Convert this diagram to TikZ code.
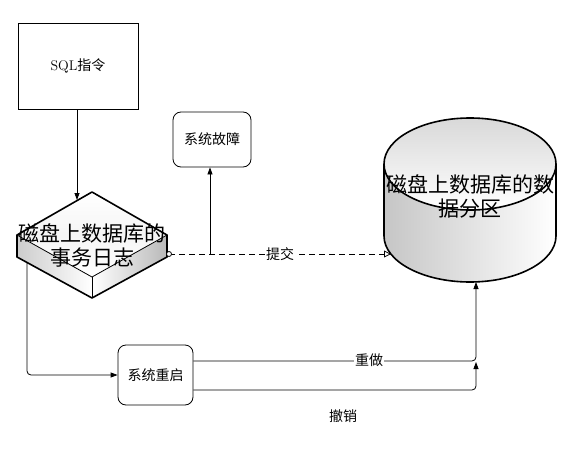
\documentclass[tikz,border=0pt]{standalone}
\usepackage{fontspec}
\newfontfamily\cjk{Noto Sans CJK SC}
\usetikzlibrary{arrows.meta}
\begin{document}
\begin{tikzpicture}[x=1pt,y=-1pt,
  line width=0.8pt,
  small/.style={font=\cjk\fontsize{14}{16}\selectfont},
  big/.style={font=\cjk\fontsize{21}{24}\selectfont, align=center, inner sep=0pt},
  sqbox/.style={draw, minimum width=120pt, minimum height=86pt, inner sep=0pt},
  rbox/.style={draw, rounded corners=8pt, inner sep=0pt, small},
  tip/.style={-{Triangle[length=7pt,width=5pt]}},
  lbl/.style={small, fill=white, inner sep=1pt},
  conn/.style={rounded corners=4pt}]
\useasboundingbox (0,0) rectangle (577,449);

% SQL box
\node[sqbox] (sql) at (78,66) {\fontsize{14}{16}\selectfont SQL{\cjk 指令}};

% isometric box (transaction log)
\coordinate (dt) at (92,192);
\coordinate (dl) at (17,235);
\coordinate (dr) at (167,235);
\coordinate (dm) at (92,277);
\coordinate (dlb) at (17,257);
\coordinate (drb) at (167,257);
\coordinate (db) at (92,298);
\shade[top color=white, bottom color=white, middle color=gray!8] (dl) -- (dt) -- (dr) -- (dm) -- cycle;
\shade[left color=gray!40, right color=white] (dl) -- (dm) -- (db) -- (dlb) -- cycle;
\shade[left color=white, right color=gray!55] (dm) -- (dr) -- (drb) -- (db) -- cycle;
\draw[line width=1.6pt, line join=round] (dl) -- (dt) -- (dr) -- (drb) -- (db) -- (dlb) -- cycle;
\draw (dl) -- (dm) -- (dr);
\draw (dm) -- (db);
\node[big] (log) at (92,245) {磁盘上数据库的\\事务日志};

% cylinder (database)
\shade[left color=gray!45, right color=white]
  (384,164) -- (384,236) arc[start angle=180, end angle=360, x radius=86pt, y radius=46pt] -- (556,164) -- cycle;
\shade[top color=gray!30, bottom color=white] (470,164) ellipse [x radius=86pt, y radius=46pt];
\draw[line width=1.6pt] (384,164) -- (384,236) arc[start angle=180, end angle=360, x radius=86pt, y radius=46pt] -- (556,164);
\draw[line width=1.6pt] (470,164) ellipse [x radius=86pt, y radius=46pt];
\node[big] (db1) at (470,196) {磁盘上数据库的数\\据分区};
\coordinate (cylleft) at (391,254);
\coordinate (cylbot) at (476,282);

% other boxes
\node[rbox, minimum width=78pt, minimum height=55pt] (fault) at (212,139.5) {系统故障};
\node[rbox, minimum width=75pt, minimum height=60pt] (restart) at (155.5,375) {系统重启};

% connectors
\draw[tip] (sql.south -| 77,0) -- (77,200);
\coordinate (dcirc) at (169,254);
\coordinate (jn) at (210,254);
\coordinate (dleft) at (27,262);
\draw[dashed, dash pattern=on 6pt off 4pt, -{Triangle[open,length=7pt,width=7pt]}] (dcirc) -- (cylleft);
\draw[fill=white] (dcirc) circle[radius=2.5pt];
\draw[tip] (jn) -- (jn |- fault.south);
\node[lbl] (commit) at (280,254) {提交};

\draw[tip, conn] (dleft) |- (restart.west);
\draw[tip, conn] ([yshift=14pt]restart.east) -| (cylbot);
\coordinate (undoend) at (476,362);
\draw[tip, conn] ([yshift=-15pt]restart.east) -| (undoend);
\node[lbl] (redo) at (369,360) {重做};
\node[small] (undo) at (343,416) {撤销};
\end{tikzpicture}
\end{document}
